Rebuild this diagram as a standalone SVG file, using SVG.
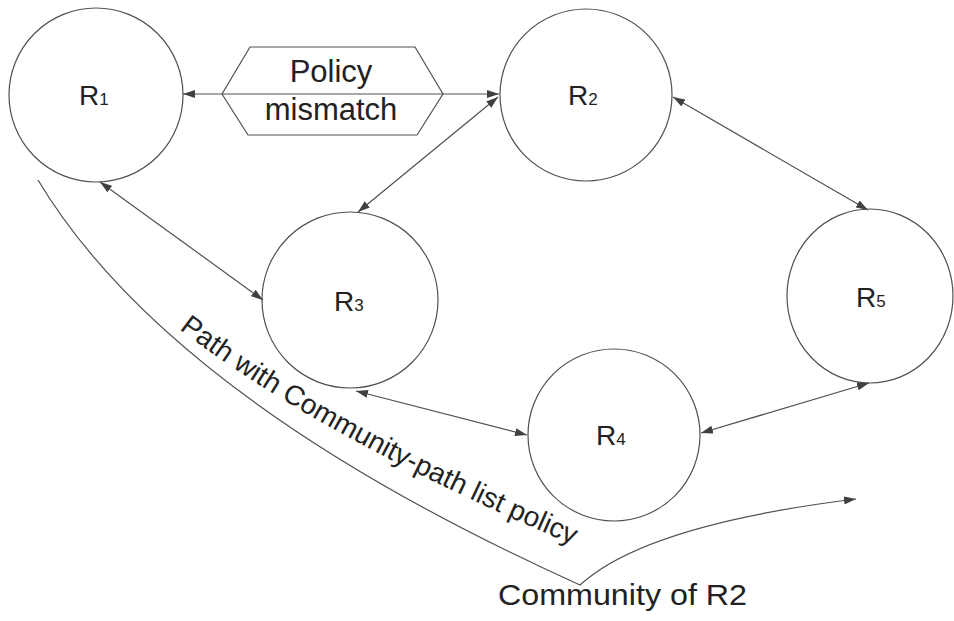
<svg xmlns="http://www.w3.org/2000/svg" width="954" height="621" viewBox="0 0 954 621">
  <style>
    .node { fill: #ffffff; stroke: #505050; stroke-width: 1.2; }
    .lbl { font-family: "Liberation Sans", Arial, sans-serif; font-size: 28px; fill: #222; }
    .sub { font-size: 17px; }
    .conn { fill: none; stroke: #505050; stroke-width: 1.2; }
    .txt { font-family: "Liberation Sans", Arial, sans-serif; fill: #222; }
  </style>
  <defs>
    <marker id="ah" viewBox="0 0 12 8" refX="12" refY="4" markerWidth="12" markerHeight="8" markerUnits="userSpaceOnUse" orient="auto-start-reverse">
      <path d="M0,0 L12,4 L0,8 z" fill="#404040"/>
    </marker>
    <path id="tp" d="M165,318 Q311,435 590,552"/>
  </defs>
  <rect width="954" height="621" fill="#ffffff"/>

  <g id="R1"><circle class="node" cx="96" cy="95" r="87"/><text class="lbl" x="79" y="105">R<tspan class="sub">1</tspan></text></g>
  <g id="R2"><circle class="node" cx="586" cy="95" r="86"/><text class="lbl" x="568" y="105">R<tspan class="sub">2</tspan></text></g>
  <g id="R3"><circle class="node" cx="350" cy="300" r="88"/><text class="lbl" x="334" y="311">R<tspan class="sub">3</tspan></text></g>
  <g id="R4"><circle class="node" cx="614" cy="435" r="86"/><text class="lbl" x="596" y="445">R<tspan class="sub">4</tspan></text></g>
  <g id="R5"><ellipse class="node" cx="870" cy="296" rx="83" ry="87"/><text class="lbl" x="856" y="307">R<tspan class="sub">5</tspan></text></g>

  <g id="connectors">
    <line class="conn" x1="183" y1="94" x2="499" y2="94" marker-start="url(#ah)" marker-end="url(#ah)"/>
    <line class="conn" x1="498" y1="97" x2="358" y2="212" marker-start="url(#ah)" marker-end="url(#ah)"/>
    <line class="conn" x1="100" y1="182" x2="263" y2="300" marker-start="url(#ah)" marker-end="url(#ah)"/>
    <line class="conn" x1="673" y1="97" x2="868" y2="210" marker-start="url(#ah)" marker-end="url(#ah)"/>
    <line class="conn" x1="356" y1="391" x2="527" y2="435" marker-start="url(#ah)" marker-end="url(#ah)"/>
    <line class="conn" x1="701" y1="433" x2="869" y2="383" marker-start="url(#ah)" marker-end="url(#ah)"/>
    <path class="conn" d="M38,180 Q170,400 580,585 Q645,525 856,499" marker-end="url(#ah)"/>
  </g>

  <g id="policy-mismatch">
    <polygon class="conn" points="250,47 415,47 443,94 417,135 248,135 222,94"/>
    <text class="txt" x="331" y="82" font-size="31" text-anchor="middle">Policy</text>
    <text class="txt" x="331" y="120" font-size="31" text-anchor="middle">mismatch</text>
  </g>

  <text class="txt" font-size="28"><textPath href="#tp" startOffset="18">Path with</textPath></text>
  <text class="txt" font-size="28"><textPath href="#tp" startOffset="141">Community-path list policy</textPath></text>
  <text class="txt" x="498" y="605" font-size="29" textLength="249" lengthAdjust="spacingAndGlyphs">Community of R2</text>
</svg>
